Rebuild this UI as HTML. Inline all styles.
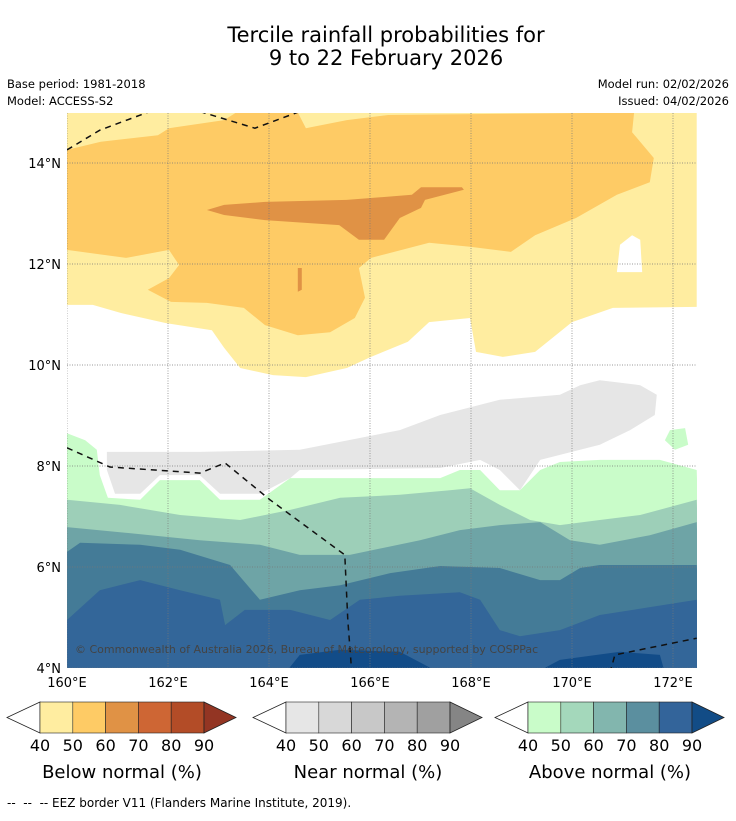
<!DOCTYPE html>
<html><head><meta charset="utf-8"><style>
body{margin:0;background:#fff;font-family:"Liberation Sans","DejaVu Sans",sans-serif}
svg text{font-family:"DejaVu Sans","Liberation Sans",sans-serif}
</style></head><body>
<svg id="chart" width="736" height="816" xmlns="http://www.w3.org/2000/svg">
<g id="head">
<text x="386" y="42" font-size="21" text-anchor="middle">Tercile rainfall probabilities for</text>
<text x="386" y="65" font-size="21" text-anchor="middle">9 to 22 February 2026</text>
<text x="7" y="88" font-size="11.5">Base period: 1981-2018</text>
<text x="7" y="105" font-size="11.5">Model: ACCESS-S2</text>
<text x="729" y="88" font-size="11.5" text-anchor="end">Model run: 02/02/2026</text>
<text x="729" y="105" font-size="11.5" text-anchor="end">Issued: 04/02/2026</text>
</g>
<defs><clipPath id="mc"><rect x="67" y="113" width="630" height="555"/></clipPath></defs>
<g id="map" clip-path="url(#mc)"></g>
<g id="axes"></g>
<g id="bars"></g>
<text x="7" y="807" font-size="12" xml:space="preserve">--  --  -- EEZ border V11 (Flanders Marine Institute, 2019).</text>
</svg>
<script>
const lonTicks=[160,162,164,166,168,170,172];
const latTicks=[4,6,8,10,12,14];
const yellow40=[[160,15],[172.47,15],[172.47,11.15],[170.81,11.13],[170.0,10.85],[169.27,10.26],[168.63,10.16],[168.10,10.26],[167.98,10.93],[167.17,10.85],[166.75,10.46],[166.02,10.16],[165.54,9.94],[164.73,9.76],[164.08,9.80],[163.43,9.94],[163.11,10.34],[162.87,10.69],[161.96,10.83],[161.07,11.03],[160.51,11.19],[160,11.19]];
const orange50=[[160,14.26],[160.67,14.42],[161.80,14.55],[162.02,14.69],[163.11,14.85],[163.35,15],[164.57,15],[164.73,14.69],[165.54,14.85],[166.36,14.95],[171.23,15],[171.19,14.61],[171.62,14.10],[171.54,13.62],[170.89,13.37],[170.08,12.91],[169.27,12.57],[168.79,12.24],[167.98,12.34],[167.17,12.42],[166.02,12.12],[165.78,11.92],[165.90,11.33],[165.70,10.93],[165.21,10.65],[164.57,10.59],[163.92,10.79],[163.50,11.13],[162.77,11.23],[162.06,11.25],[161.60,11.49],[162.02,11.72],[162.22,11.98],[162.02,12.28],[161.17,12.12],[160,12.28]];
const dark60=[[162.77,13.07],[163.11,13.17],[163.92,13.23],[165.54,13.27],[166.83,13.37],[167.01,13.52],[167.82,13.52],[167.86,13.47],[167.09,13.27],[167.01,13.11],[166.59,12.91],[166.28,12.48],[165.78,12.48],[165.39,12.77],[163.92,12.87],[163.11,12.97]];
const dark60b=[[164.57,11.92],[164.65,11.92],[164.65,11.49],[164.57,11.45]];
const whiteHole=[[170.89,11.84],[170.95,12.38],[171.19,12.57],[171.35,12.48],[171.39,11.84]];
const gray40=[[160.79,8.28],[162.63,8.28],[164.61,8.32],[166.59,8.71],[167.39,9.01],[168.57,9.31],[169.76,9.41],[170.16,9.60],[170.55,9.70],[171.35,9.60],[171.68,9.41],[171.64,9.01],[171.15,8.71],[170.55,8.42],[169.37,8.12],[168.97,7.52],[168.57,7.92],[168.18,8.12],[167.39,7.96],[164.61,7.92],[164.42,7.76],[163.82,7.45],[163.03,7.45],[162.63,7.82],[161.84,7.82],[161.45,7.45],[160.95,7.45],[160.79,7.92]];
const greenBlob=[[171.84,8.51],[171.94,8.71],[172.24,8.75],[172.30,8.42],[172.04,8.32]];
const green40=[[160,8.65],[160.36,8.51],[160.59,8.32],[160.65,7.82],[160.81,7.37],[161.45,7.33],[161.84,7.72],[162.63,7.72],[163.03,7.33],[163.82,7.33],[164.42,7.76],[167.39,7.76],[167.78,7.92],[168.18,7.92],[168.57,7.52],[168.97,7.52],[169.37,7.92],[169.76,8.08],[170.55,8.12],[171.74,8.12],[172.47,7.92]];
const green50=[[160,7.33],[161.05,7.23],[162.24,7.03],[163.43,6.93],[164.42,7.13],[165.41,7.37],[166.59,7.43],[167.58,7.52],[167.98,7.56],[168.57,7.23],[169.17,6.93],[169.76,6.83],[170.55,6.93],[171.35,7.03],[172.47,7.33]];
const green60=[[160,6.79],[161.05,6.69],[162.63,6.53],[163.82,6.44],[164.61,6.24],[165.60,6.24],[166.99,6.53],[167.78,6.73],[168.57,6.83],[169.37,6.89],[169.96,6.53],[170.55,6.44],[171.54,6.63],[172.47,6.89]];
const green70=[[160,6.30],[160.26,6.48],[161.45,6.44],[162.24,6.34],[163.23,6.04],[163.82,5.35],[164.61,5.54],[165.41,5.64],[166.40,5.88],[167.39,6.02],[168.57,5.98],[169.37,5.74],[169.76,5.74],[170.16,5.98],[170.55,6.04],[171.54,6.04],[172.47,6.04]];
const green80=[[160,4.95],[160.65,5.54],[161.45,5.74],[162.24,5.54],[163.03,5.35],[163.13,4.85],[163.52,5.15],[164.42,5.15],[165.21,4.95],[165.80,5.35],[166.59,5.43],[167.78,5.50],[168.18,5.35],[168.57,4.75],[168.97,4.63],[169.76,4.75],[170.55,5.05],[172.47,5.35]];
const green90a=[[164.32,3.9],[164.61,4.26],[165.41,4.36],[166.59,4.32],[167.39,3.9]];
const green90b=[[169.27,3.9],[169.76,4.16],[170.95,4.32],[171.74,4.26],[171.84,3.9]];
const eez1=[[160,14.26],[160.65,14.65],[161.64,15.02]];
const eez2=[[162.63,15.02],[163.72,14.69],[164.61,15.02]];
const eez3=[[160,8.36],[160.85,7.98],[162.63,7.86],[163.13,8.06],[164.02,7.33],[165.50,6.24],[165.56,4.95],[165.64,3.9]];
const eez4=[[170.75,3.9],[170.85,4.26],[172.47,4.59]];
const cbLabels=["40","50","60","70","80","90"];
const belowColors=["#ffeda0","#fecb65","#e09245","#ce6634","#b34c27","#933523"];
const nearColors=["#e6e6e6","#d8d8d8","#c8c8c8","#b4b4b4","#a0a0a0","#858585"];
const aboveColors=["#c9fcc9","#a4d8bb","#82b6ae","#5b8f9f","#33649a","#124c86"];

const NS="http://www.w3.org/2000/svg";
const X=lon=>67+(lon-160)*50.5;
const Y=lat=>668-(lat-4)*50.5;
const map=document.getElementById('map');
function mk(t,a,p){const e=document.createElementNS(NS,t);for(const k in a)e.setAttribute(k,a[k]);p.appendChild(e);return e;}
function pts(arr){return arr.map(p=>X(p[0]).toFixed(1)+','+Y(p[1]).toFixed(1)).join(' ');}
function poly(arr,fill,name){const e=mk('polygon',{points:pts(arr),fill:fill},map);

}
function bottomFill(arr){return arr.concat([[172.6,3.8],[159.9,3.8]]);}
mk('rect',{x:67,y:113,width:630,height:555,fill:'#fff'},map);
poly(yellow40,'#ffeda0','below-normal-40');
poly(orange50,'#fecb65','below-normal-50');
poly(dark60,'#e09245','below-normal-60');
poly(dark60b,'#e09245','below-normal-60-patch');
poly(whiteHole,'#fff','no-signal-hole');
poly(gray40,'#e6e6e6','near-normal-40');
poly(greenBlob,'#c9fcc9','above-normal-40-blob');
poly(bottomFill(green40),'#c9fcc9','above-normal-40');
poly(bottomFill(green50),'#9dcfb8','above-normal-50');
poly(bottomFill(green60),'#6ea4a6','above-normal-60');
poly(bottomFill(green70),'#447b97','above-normal-70');
poly(bottomFill(green80),'#336699','above-normal-80');
poly(green90a,'#124c88','above-normal-90-west');
poly(green90b,'#124c88','above-normal-90-east');
lonTicks.forEach(l=>{const g=mk('line',{x1:X(l),x2:X(l),y1:113,y2:668,stroke:'#777','stroke-width':0.7,'stroke-dasharray':'1,1.5'},map);

});
latTicks.forEach(l=>{const g=mk('line',{x1:67,x2:697,y1:Y(l),y2:Y(l),stroke:'#777','stroke-width':0.7,'stroke-dasharray':'1,1.5'},map);

});
[eez1,eez2,eez3,eez4].forEach(a=>{const e=mk('polyline',{points:pts(a),fill:'none',stroke:'#111','stroke-width':1.5,'stroke-dasharray':'6,5'},map);

});
const cp=mk('text',{x:75,y:653,'font-size':11,fill:'#444'},map);cp.textContent='© Commonwealth of Australia 2026, Bureau of Meteorology, supported by COSPPac';


const axes=document.getElementById('axes');
lonTicks.forEach(l=>{const t=mk('text',{x:X(l),y:687,'font-size':13,'text-anchor':'middle'},axes);t.textContent=l+'°E';

});
latTicks.forEach(l=>{const t=mk('text',{x:61,y:Y(l)+5,'font-size':13,'text-anchor':'end'},axes);t.textContent=l+'°N';

});
const bars=document.getElementById('bars');
function colorbar(x0,x1,colors,title,name){
 const g=mk('g',{},bars);
 
 
 const y0=702,y1=733,w=(x1-x0)/5,ym=(y0+y1)/2;
 mk('polygon',{points:`${x0},${y0} ${x0-33},${ym} ${x0},${y1}`,fill:'#fff',stroke:'#222','stroke-width':0.8},g);
 for(let i=0;i<5;i++)mk('rect',{x:x0+i*w,y:y0,width:w,height:y1-y0,fill:colors[i],stroke:'#222','stroke-width':0.6},g);
 mk('polygon',{points:`${x1},${y0} ${x1+32},${ym} ${x1},${y1}`,fill:colors[5],stroke:'#222','stroke-width':0.8},g);
 cbLabels.forEach((s,i)=>{const t=mk('text',{x:x0+i*w,y:751,'font-size':16,'text-anchor':'middle'},g);t.textContent=s;});
 const t=mk('text',{x:(x0+x1)/2,y:778,'font-size':18,'text-anchor':'middle'},g);t.textContent=title;
}
colorbar(40,204,belowColors,'Below normal (%)','below-normal-colorbar');
colorbar(286,450,nearColors,'Near normal (%)','near-normal-colorbar');
colorbar(528,692,aboveColors,'Above normal (%)','above-normal-colorbar');
</script>
</body></html>
